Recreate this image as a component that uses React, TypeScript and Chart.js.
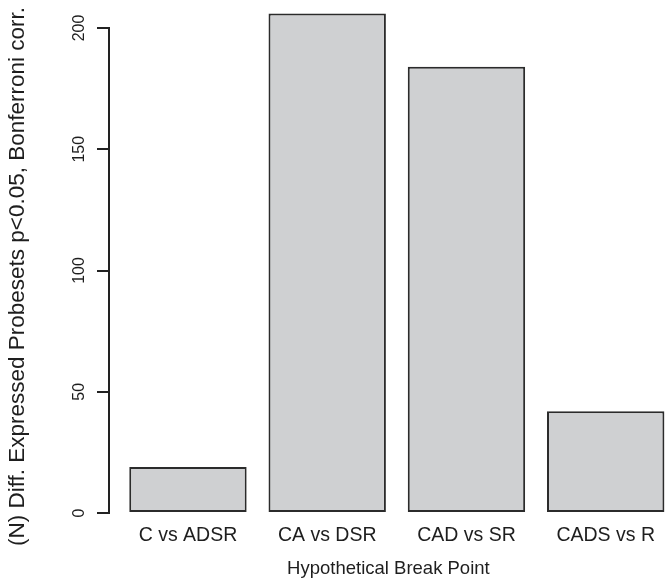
import React, { useEffect, useRef } from "react";
import { Chart, registerables } from "chart.js";

Chart.register(...registerables);

const categories = ["C vs ADSR", "CA vs DSR", "CAD vs SR", "CADS vs R"];
const counts = [19, 206, 184, 42];
const yTickValues = [0, 50, 100, 150, 200];
const xTitle = "Hypothetical Break Point";
const yTitle = "(N) Diff. Expressed Probesets p<0.05, Bonferroni corr.";

const FAMILY = "'Liberation Sans', Arial, Helvetica, sans-serif";
const TEXT = "#1e1e1e";

const yTitlePlugin = {
  id: "yTitleR",
  afterDraw(chart: any) {
    const { ctx, chartArea } = chart;
    ctx.save();
    ctx.font = `22.5px ${FAMILY}`;
    ctx.fillStyle = TEXT;
    ctx.textAlign = "center";
    ctx.textBaseline = "middle";
    ctx.translate(18, (chartArea.top + chartArea.bottom) / 2 + 6);
    ctx.rotate(-Math.PI / 2);
    ctx.fillText(yTitle, 0, 0);
    ctx.restore();
  },
};

export default function App() {
  const ref = useRef<HTMLCanvasElement>(null);

  useEffect(() => {
    const canvas = ref.current;
    if (!canvas) return;
    const chart = new Chart(canvas, {
      type: "bar",
      data: {
        datasets: [
          {
            data: counts.map((v, i) => ({ x: i, y: v })),
            backgroundColor: "#cfd0d2",
            borderColor: "#2b2b2b",
            borderWidth: 2,
            borderSkipped: false,
            barPercentage: 0.843,
            categoryPercentage: 1,
            clip: false,
          } as any,
        ],
      },
      options: {
        animation: false,
        responsive: false,
        layout: { padding: { top: 28, right: 0, bottom: 0, left: 0 } },
        plugins: {
          legend: { display: false },
          tooltip: { enabled: false },
        },
        scales: {
          x: {
            type: "linear",
            offset: false,
            min: -0.567,
            max: 3.446,
            grid: { display: false, drawTicks: false, offset: false },
            border: { display: false },
            afterBuildTicks: (s: any) => {
              s.ticks = categories.map((_, i) => ({ value: i }));
            },
            afterFit: (s: any) => {
              s.height = 69;
            },
            ticks: {
              callback: (v: any) => categories[v as number] ?? "",
              autoSkip: false,
              minRotation: 0,
              maxRotation: 0,
              padding: 13,
              color: TEXT,
              font: { family: FAMILY, size: 19.5, lineHeight: 1 },
            },
            title: {
              display: true,
              text: xTitle,
              color: TEXT,
              font: { family: FAMILY, size: 18.5, lineHeight: 1 },
              padding: { top: 0, bottom: 4 },
            },
          },
          y: {
            type: "linear",
            min: 0,
            max: 200,
            afterBuildTicks: (s: any) => {
              s.ticks = yTickValues.map((v) => ({ value: v }));
            },
            afterFit: (s: any) => {
              s.width = 109;
            },
            grid: {
              drawOnChartArea: false,
              drawTicks: true,
              tickLength: 12,
              color: "#222",
              lineWidth: 2,
            },
            border: { display: true, color: "#222", width: 2 },
            ticks: {
              minRotation: 90,
              maxRotation: 90,
              crossAlign: "center",
              padding: 4,
              color: TEXT,
              font: { family: FAMILY, size: 16, lineHeight: 1 },
            },
            title: { display: false },
          },
        },
      } as any,
      plugins: [yTitlePlugin],
    });
    return () => chart.destroy();
  }, []);

  return (
    <div style={{ position: "fixed", left: 0, top: 0, width: 668, height: 582, background: "#fff" }}>
      <canvas ref={ref} width={668} height={582} style={{ display: "block" }} />
    </div>
  );
}
